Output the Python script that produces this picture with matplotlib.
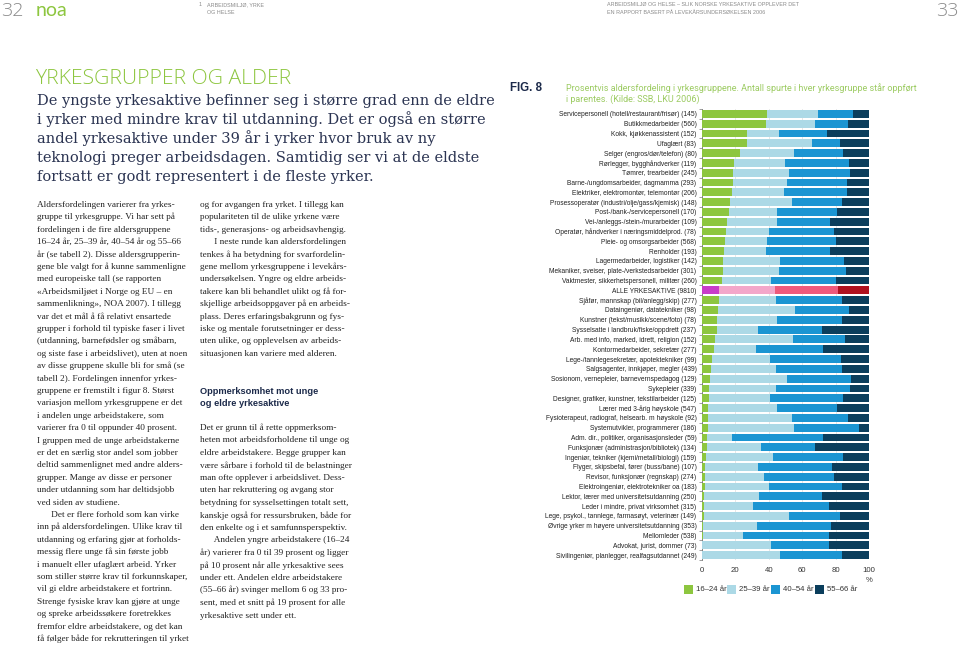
import matplotlib
matplotlib.use("Agg")
import matplotlib.pyplot as plt
from matplotlib.patches import Rectangle

# ---------------- data ----------------
occupations = [
    "Servicepersonell (hotell/restaurant/frisør)", "Butikkmedarbeider", "Kokk, kjøkkenassistent",
    "Ufaglært", "Selger (engros/dør/telefon)", "Rørlegger, bygghåndverker", "Tømrer, trearbeider",
    "Barne-/ungdomsarbeider, dagmamma", "Elektriker, elektromontør, telemontør",
    "Prosessoperatør (industri/olje/gass/kjemisk)", "Post-/bank-/servicepersonell",
    "Vei-/anleggs-/stein-/murarbeider", "Operatør, håndverker i næringsmiddelprod.",
    "Pleie- og omsorgsarbeider", "Renholder", "Lagermedarbeider, logistiker",
    "Mekaniker, sveiser, plate-/verkstedsarbeider", "Vaktmester, sikkerhetspersonell, militær",
    "ALLE YRKESAKTIVE", "Sjåfør, mannskap (bil/anlegg/skip)", "Dataingeniør, datatekniker",
    "Kunstner (tekst/musikk/scene/foto)", "Sysselsatte i landbruk/fiske/oppdrett",
    "Arb. med info, marked, idrett, religion", "Kontormedarbeider, sekretær",
    "Lege-/tannlegesekretær, apotektekniker", "Salgsagenter, innkjøper, megler",
    "Sosionom, vernepleier, barnevernspedagog", "Sykepleier",
    "Designer, grafiker, kunstner, tekstilarbeider", "Lærer med 3-årig høyskole",
    "Fysioterapeut, radiograf, helsearb. m høyskole", "Systemutvikler, programmerer",
    "Adm. dir., politiker, organisasjonsleder", "Funksjonær (administrasjon/bibliotek)",
    "Ingeniør, tekniker (kjemi/metall/biologi)", "Flyger, skipsbefal, fører (buss/bane)",
    "Revisor, funksjonær (regnskap)", "Elektroingeniør, elektrotekniker oa",
    "Lektor, lærer med universitetsutdanning", "Leder i mindre, privat virksomhet",
    "Lege, psykol., tannlege, farmasøyt, veterinær", "Øvrige yrker m høyere universitetsutdanning",
    "Mellomleder", "Advokat, jurist, dommer", "Sivilingeniør, planlegger, realfagsutdannet",
]
n_asked = [145, 560, 152, 83, 80, 119, 245, 293, 206, 148, 170, 109, 78, 568, 193, 142, 301, 260,
           9810, 277, 98, 78, 237, 152, 277, 99, 439, 129, 339, 125, 547, 92, 186, 59, 134, 159,
           107, 274, 183, 250, 315, 149, 353, 538, 73, 249]
age_16_24 = [39.2, 38.6, 27.2, 26.8, 22.8, 19.4, 18.8, 18.8, 17.8, 17.0, 16.0, 15.0, 14.4, 13.8,
             13.2, 12.8, 12.8, 11.8, 10.4, 10.0, 9.4, 9.2, 9.0, 8.0, 7.4, 6.2, 5.2, 4.8, 4.4, 4.2,
             3.8, 3.6, 3.4, 3.2, 2.8, 2.6, 2.0, 1.8, 1.6, 1.4, 1.4, 1.2, 0.6, 0.6, 0.0, 0.0]
age_25_39 = [30.2, 29.0, 19.0, 38.8, 32.4, 30.4, 33.0, 32.0, 31.4, 36.8, 28.8, 30.0, 25.6, 25.4,
             25.4, 33.8, 33.6, 29.6, 33.2, 34.6, 46.0, 36.0, 24.8, 46.4, 25.0, 34.4, 39.0, 46.0,
             40.0, 36.6, 41.2, 50.0, 51.8, 15.0, 32.4, 39.8, 31.8, 35.2, 38.4, 32.6, 29.0, 50.8,
             32.2, 24.2, 41.2, 47.0]
age_40_54 = [20.8, 19.6, 28.4, 17.0, 29.0, 38.2, 37.0, 35.8, 37.4, 29.8, 35.8, 31.6, 38.8, 40.8,
             38.0, 38.4, 39.8, 38.6, 38.0, 39.2, 32.8, 38.4, 37.8, 31.2, 40.2, 42.8, 39.6, 38.2,
             44.2, 43.8, 35.8, 34.0, 39.0, 54.0, 32.4, 41.8, 44.2, 42.0, 43.8, 37.8, 45.8, 30.6,
             44.4, 51.0, 34.6, 37.0]
age_55_66 = [9.8, 12.8, 25.4, 17.4, 15.8, 12.0, 11.2, 13.4, 13.4, 16.4, 19.4, 23.4, 21.2, 20.0,
             23.4, 15.0, 13.8, 20.0, 18.4, 16.2, 11.8, 16.4, 28.4, 14.4, 27.4, 16.6, 16.2, 11.0,
             11.4, 15.4, 19.2, 12.4, 5.8, 27.8, 32.4, 15.8, 22.0, 21.0, 16.2, 28.2, 23.8, 17.4,
             22.8, 24.2, 24.2, 16.0]
age_groups = ["16–24 år", "25–39 år", "40–54 år", "55–66 år"]
x_ticks = [0, 20, 40, 60, 80, 100]

# ---------------- styling ----------------
W, H = 960, 646
fig = plt.figure(figsize=(W / 100, H / 100), dpi=100)
fig.patch.set_facecolor("white")

def fx(x):
    return x / W

def fy(y):
    return 1 - y / H

colors = ["#8dc63f", "#acd9e6", "#1b95d2", "#0b3e5c"]
colors_all = ["#c93cc9", "#f3a7ca", "#ee5a7c", "#b0121f"]
GREEN = "#8dc63f"
SERIF = ["Liberation Serif", "DejaVu Serif"]
SANS = ["Liberation Sans", "DejaVu Sans"]

# ---------------- header ----------------
fig.text(fx(1), fy(11), "32", fontsize=14, color="#8a8a8a", family="Open Sans",
         fontweight="light", va="center", ha="left")
fig.text(fx(959), fy(11), "33", fontsize=14, color="#8a8a8a", family="Open Sans",
         fontweight="light", va="center", ha="right")
fig.text(fx(36), fy(16), "noa", fontsize=14, color=GREEN, family="Lato", fontweight="normal",
         va="baseline", ha="left")
hdr = dict(fontsize=3.9, color="#8a8a8a", family=SANS, va="center", ha="left")
fig.text(fx(199), fy(5), "1", **hdr)
fig.text(fx(207), fy(5), "ARBEIDSMILJØ, YRKE", **hdr)
fig.text(fx(207), fy(12), "OG HELSE", **hdr)
fig.text(fx(607), fy(5), "ARBEIDSMILJØ OG HELSE – SLIK NORSKE YRKESAKTIVE OPPLEVER DET", **hdr)
fig.text(fx(607), fy(12), "EN RAPPORT BASERT PÅ LEVEKÅRSUNDERSØKELSEN 2006", **hdr)

# ---------------- left page text ----------------
fig.text(fx(35), fy(79), "YRKESGRUPPER OG ALDER", fontsize=15.2, color=GREEN, family="Open Sans",
         fontweight="light", va="center", ha="left")

intro = [
    "De yngste yrkesaktive befinner seg i større grad enn de eldre",
    "i yrker med mindre krav til utdanning. Det er også en større",
    "andel yrkesaktive under 39 år i yrker hvor bruk av ny",
    "teknologi preger arbeidsdagen. Samtidig ser vi at de eldste",
    "fortsatt er godt representert i de fleste yrker.",
]
for i, line in enumerate(intro):
    fig.text(fx(37), fy(105 + i * 19.1), line, fontsize=10.5, color="#2b3452",
             family=["DejaVu Serif"], va="baseline", ha="left")

col1 = [
    "Aldersfordelingen varierer fra yrkes-",
    "gruppe til yrkesgruppe. Vi har sett på",
    "fordelingen i de fire aldersgruppene",
    "16–24 år, 25–39 år, 40–54 år og 55–66",
    "år (se tabell 2). Disse aldersgrupperin-",
    "gene ble valgt for å kunne sammenligne",
    "med europeiske tall (se rapporten",
    "«Arbeidsmiljøet i Norge og EU – en",
    "sammenlikning», NOA 2007). I tillegg",
    "var det et mål å få relativt ensartede",
    "grupper i forhold til typiske faser i livet",
    "(utdanning, barnefødsler og småbarn,",
    "og siste fase i arbeidslivet), uten at noen",
    "av disse gruppene skulle bli for små (se",
    "tabell 2). Fordelingen innenfor yrkes-",
    "gruppene er fremstilt i figur 8. Størst",
    "variasjon mellom yrkesgruppene er det",
    "i andelen unge arbeidstakere, som",
    "varierer fra 0 til oppunder 40 prosent.",
    "I gruppen med de unge arbeidstakerne",
    "er det en særlig stor andel som jobber",
    "deltid sammenlignet med andre alders-",
    "grupper. Mange av disse er personer",
    "under utdanning som har deltidsjobb",
    "ved siden av studiene.",
    "      Det er flere forhold som kan virke",
    "inn på aldersfordelingen. Ulike krav til",
    "utdanning og erfaring gjør at forholds-",
    "messig flere unge få sin første jobb",
    "i manuelt eller ufaglært arbeid. Yrker",
    "som stiller større krav til forkunnskaper,",
    "vil gi eldre arbeidstakere et fortrinn.",
    "Strenge fysiske krav kan gjøre at unge",
    "og spreke arbeidssøkere foretrekkes",
    "fremfor eldre arbeidstakere, og det kan",
    "få følger både for rekrutteringen til yrket",
]
body = dict(fontsize=6.7, color="#222222", family=SERIF, va="baseline", ha="left")
for i, line in enumerate(col1):
    fig.text(fx(37), fy(207 + i * 12.4), line, **body)

col2a = [
    "og for avgangen fra yrket. I tillegg kan",
    "populariteten til de ulike yrkene være",
    "tids-, generasjons- og arbeidsavhengig.",
    "      I neste runde kan aldersfordelingen",
    "tenkes å ha betydning for svarfordelin-",
    "gene mellom yrkesgruppene i levekårs-",
    "undersøkelsen. Yngre og eldre arbeids-",
    "takere kan bli behandlet ulikt og få for-",
    "skjellige arbeidsoppgaver på en arbeids-",
    "plass. Deres erfaringsbakgrunn og fys-",
    "iske og mentale forutsetninger er dess-",
    "uten ulike, og opplevelsen av arbeids-",
    "situasjonen kan variere med alderen.",
]
for i, line in enumerate(col2a):
    fig.text(fx(200), fy(207 + i * 12.4), line, **body)

fig.text(fx(200), fy(394), "Oppmerksomhet mot unge", fontsize=6.7, color="#1c2a4a",
         family=SANS, fontweight="bold", va="baseline", ha="left")
fig.text(fx(200), fy(406), "og eldre yrkesaktive", fontsize=6.7, color="#1c2a4a",
         family=SANS, fontweight="bold", va="baseline", ha="left")

col2b = [
    "Det er grunn til å rette oppmerksom-",
    "heten mot arbeidsforholdene til unge og",
    "eldre arbeidstakere. Begge grupper kan",
    "være sårbare i forhold til de belastninger",
    "man ofte opplever i arbeidslivet. Dess-",
    "uten har rekruttering og avgang stor",
    "betydning for sysselsettingen totalt sett,",
    "kanskje også for ressursbruken, både for",
    "den enkelte og i et samfunnsperspektiv.",
    "      Andelen yngre arbeidstakere (16–24",
    "år) varierer fra 0 til 39 prosent og ligger",
    "på 10 prosent når alle yrkesaktive sees",
    "under ett. Andelen eldre arbeidstakere",
    "(55–66 år) svinger mellom 6 og 33 pro-",
    "sent, med et snitt på 19 prosent for alle",
    "yrkesaktive sett under ett.",
]
for i, line in enumerate(col2b):
    fig.text(fx(200), fy(430 + i * 12.5), line, **body)

# ---------------- figure caption ----------------
fig.text(fx(510), fy(88), "FIG. 8", fontsize=8.3, color="#1c2a4a", family=SANS,
         fontweight="bold", va="center", ha="left")
fig.text(fx(566), fy(88), "Prosentvis aldersfordeling i yrkesgruppene. Antall spurte i hver "
         "yrkesgruppe står oppført", fontsize=6.5, color="#9ccb62", family="Roboto",
         va="center", ha="left")
fig.text(fx(566), fy(99.5), "i parentes. (Kilde: SSB, LKU 2006)", fontsize=6.5, color="#9ccb62",
         family="Roboto", va="center", ha="left")

# ---------------- chart ----------------
ax = fig.add_axes([fx(702), fy(560), fx(869) - fx(702), (560 - 109) / H])
n = len(occupations)
ypos = list(range(n))
series = [age_16_24, age_25_39, age_40_54, age_55_66]
left = [0.0] * n
for k, vals in enumerate(series):
    cols = [colors_all[k] if occupations[i] == "ALLE YRKESAKTIVE" else colors[k] for i in range(n)]
    ax.barh(ypos, vals, left=left, height=0.8, color=cols, edgecolor="none", zorder=3)
    left = [l + v for l, v in zip(left, vals)]

ax.set_ylim(n - 0.5, -0.5)
ax.set_xlim(0, 100)
ax.set_xticks(x_ticks)
ax.set_xticklabels([str(t) for t in x_ticks], fontsize=5.6, color="#333333", family=SANS)
ax.tick_params(axis="x", length=0, pad=5)
ax.set_yticks(ypos)
ax.set_yticklabels([f"{o} ({c})" for o, c in zip(occupations, n_asked)], fontsize=4.8,
                   color="#222222", family=SANS)
ax.set_yticks([i + 0.5 for i in range(-1, n)], minor=True)
ax.tick_params(axis="y", which="major", length=0, pad=4)
ax.tick_params(axis="y", which="minor", length=2.5, width=0.5, color="#777777")
for s in ["top", "right", "bottom"]:
    ax.spines[s].set_visible(False)
ax.spines["left"].set_color("#777777")
ax.spines["left"].set_linewidth(0.6)
ax.grid(axis="x", color="#dddddd", linewidth=0.5, zorder=0)
ax.set_axisbelow(True)
fig.text(fx(869), fy(580), "%", fontsize=5.6, color="#333333", family=SANS, ha="center",
         va="center")

# legend
leg_x = [684, 727, 771, 815]
for k, lab in enumerate(age_groups):
    fig.patches.append(Rectangle((fx(leg_x[k]), fy(594)), fx(9), 9 / H, transform=fig.transFigure,
                                 facecolor=colors[k], edgecolor="none"))
    fig.text(fx(leg_x[k] + 12), fy(589.5), lab, fontsize=5.6, color="#333333", family=SANS,
             va="center", ha="left")

fig.savefig("out.png", dpi=100, facecolor="white")
